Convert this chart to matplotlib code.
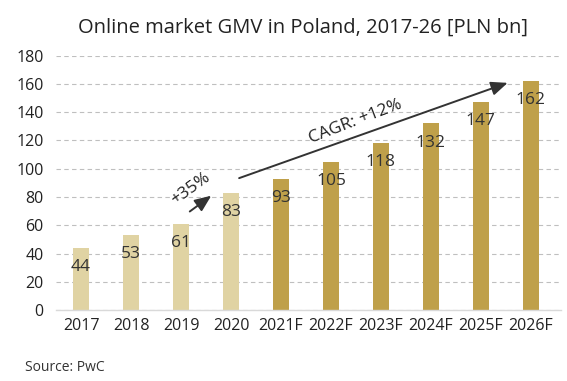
import matplotlib
matplotlib.use("Agg")
import matplotlib.pyplot as plt

categories = ["2017", "2018", "2019", "2020", "2021F", "2022F", "2023F", "2024F", "2025F", "2026F"]
values = [44, 53, 61, 83, 93, 105, 118, 132, 147, 162]
forecast = [False, False, False, False, True, True, True, True, True, True]
yticks = [0, 20, 40, 60, 80, 100, 120, 140, 160, 180]

plt.rcParams['font.family'] = ['Open Sans', 'DejaVu Sans']

fig = plt.figure(figsize=(5.67, 3.81), dpi=100)
ax = fig.add_axes([0.099, 0.186, 0.890, 0.668])

light = "#E0D3A3"
dark = "#BFA04A"
colors = [dark if f else light for f in forecast]
x = list(range(len(categories)))
ax.bar(x, values, width=0.33, color=colors, zorder=2)

for xi, v in zip(x, values):
    ax.text(xi, v - 13.5, str(v), ha="center", va="center", fontsize=12.5, color="#333333", zorder=3)

ax.set_xlim(-0.5, 9.6)
ax.set_ylim(0, 180)
ax.set_yticks(yticks)
ax.set_xticks(x)
ax.set_xticklabels(categories)
ax.tick_params(axis="both", length=0, labelsize=11.5, colors="#222222")
ax.tick_params(axis="x", pad=6)
ax.tick_params(axis="y", pad=9)
ax.yaxis.grid(True, linestyle=(0, (4, 3)), color="#BFBFBF", linewidth=0.8, zorder=0)
for s in ["top", "right", "left"]:
    ax.spines[s].set_visible(False)
ax.spines["bottom"].set_color("#D9D9D9")
ax.spines["bottom"].set_linewidth(1.0)

# arrows
ax.annotate("", xy=(2.65, 82.1), xytext=(2.13, 68.6),
            arrowprops=dict(arrowstyle="-|>,head_length=1.0,head_width=0.42", color="#333333", lw=1.4), zorder=4)
ax.text(2.2, 86, "+35%", rotation=36, ha="center", va="center", fontsize=12.5, color="#222222")
ax.annotate("", xy=(8.59, 161.4), xytext=(3.11, 92.7),
            arrowprops=dict(arrowstyle="-|>,head_length=1.0,head_width=0.42", color="#333333", lw=1.4), zorder=4)
ax.text(5.5, 133, "CAGR: +12%", rotation=21, ha="center", va="center", fontsize=12.5, color="#222222")

fig.text(0.535, 0.927, "Online market GMV in Poland, 2017-26 [PLN bn]", ha="center", va="center", fontsize=14.5, color="#222222")
fig.text(0.044, 0.035, "Source: PwC", ha="left", va="center", fontsize=10, color="#333333")

fig.savefig("out.png", dpi=100)
